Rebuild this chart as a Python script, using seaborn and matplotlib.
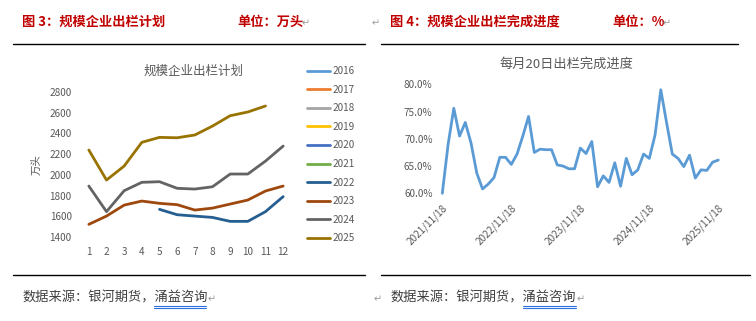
import matplotlib
matplotlib.use("Agg")
import matplotlib.pyplot as plt
from matplotlib.lines import Line2D
import numpy as np
import pandas as pd
import seaborn as sns

sns.set_theme(style="white")
plt.rcParams["font.family"] = ["Noto Sans CJK SC", "DejaVu Sans"]

# ---- data: planned monthly slaughter of large producers (10k head) ----
months = list(range(1, 13))
years = ["2016", "2017", "2018", "2019", "2020", "2021", "2022", "2023", "2024", "2025"]
plan_2022 = [None, None, None, None, 1667, 1615, 1602, 1589, 1551, 1551, 1645, 1790]
plan_2023 = [1522, 1602, 1708, 1747, 1725, 1712, 1660, 1679, 1718, 1757, 1844, 1892]
plan_2024 = [1892, 1645, 1847, 1928, 1934, 1870, 1863, 1885, 2008, 2008, 2133, 2278]
plan_2025 = [2240, 1950, 2085, 2314, 2362, 2358, 2385, 2471, 2571, 2607, 2665, None]
year_colors = ["#5B9BD5", "#ED7D31", "#A5A5A5", "#FFC000", "#4472C4",
               "#70AD47", "#255E91", "#9E480E", "#636363", "#997300"]
left_yticks = [1400, 1600, 1800, 2000, 2200, 2400, 2600, 2800]

# ---- data: completion of monthly plan as of the 20th ----
progress_dates = pd.date_range("2021-11-01", periods=49, freq="MS") + pd.Timedelta(days=17)
progress = [60.0, 68.9, 75.6, 70.5, 73.0, 69.2, 63.7, 60.8, 61.7, 62.9,
            66.6, 66.6, 65.3, 67.2, 70.5, 74.1, 67.5, 68.1, 68.0, 68.0,
            65.2, 65.0, 64.5, 64.5, 68.3, 67.3, 69.5, 61.2, 63.2, 62.0,
            65.6, 61.3, 66.4, 63.4, 64.3, 67.2, 66.4, 70.7, 79.0, 73.0,
            67.2, 66.4, 64.9, 67.0, 62.8, 64.3, 64.2, 65.7, 66.1]
right_xticklabels = ["2021/11/18", "2022/11/18", "2023/11/18", "2024/11/18", "2025/11/18"]
right_yticks = [60, 65, 70, 75, 80]

W, H = 756, 321
fig = plt.figure(figsize=(W / 100, H / 100), dpi=100)
fig.patch.set_facecolor("white")

def px_axes(x0, y0, x1, y1):
    return fig.add_axes([x0 / W, 1 - y1 / H, (x1 - x0) / W, (y1 - y0) / H])

GRAY = "#595959"
RED = "#C00000"
MARK = "#9A9A9A"

# ---------------- left chart ----------------
axl = px_axes(80, 92, 292, 237)
plan = pd.DataFrame({
    "month": months * 4,
    "value": plan_2022 + plan_2023 + plan_2024 + plan_2025,
    "year": ["2022"] * 12 + ["2023"] * 12 + ["2024"] * 12 + ["2025"] * 12,
}).dropna()
pal = dict(zip(years, year_colors))
sns.lineplot(data=plan, x="month", y="value", hue="year", palette=pal,
             ax=axl, linewidth=2.0, legend=False)
axl.set_xlim(0.5, 12.5)
axl.set_ylim(1400, 2800)
axl.set_xticks(months)
axl.set_xticklabels([str(m) for m in months])
axl.set_yticks(left_yticks)
axl.tick_params(axis="both", length=0, labelsize=7.2, colors=GRAY)
axl.tick_params(axis="x", pad=7)
axl.tick_params(axis="y", pad=6)
axl.set_xlabel("")
axl.set_ylabel("万头", fontsize=7.5, color=GRAY, labelpad=6)
for s in axl.spines.values():
    s.set_visible(False)
axl.set_facecolor("none")
fig.text(194 / W, 1 - 71 / H, "规模企业出栏计划", ha="center", va="center",
         fontsize=9, color=GRAY)
handles = [Line2D([0], [0], color=c, lw=2) for c in year_colors]
fig.legend(handles, years, loc="upper left", bbox_to_anchor=(302 / W, 1 - 61 / H),
           frameon=False, fontsize=7.2, handlelength=2.3, handletextpad=0.25,
           labelspacing=0.86, borderpad=0, labelcolor=GRAY)

# ---------------- right chart ----------------
axr = px_axes(442.3, 84.3, 718.3, 193.3)
prog = pd.DataFrame({"idx": np.arange(len(progress)), "pct": progress})
sns.lineplot(data=prog, x="idx", y="pct", ax=axr, color="#5B9BD5",
             linewidth=2.0, clip_on=False)
axr.set_xlim(0, len(progress) - 1)
axr.set_ylim(60, 80)
axr.set_yticks(right_yticks)
axr.set_yticklabels([f"{v:.1f}%" for v in right_yticks])
tick_idx = [i for i, d in enumerate(progress_dates) if d.month == 11]
axr.set_xticks(tick_idx)
axr.set_xticklabels(right_xticklabels, rotation=45, ha="right",
                    rotation_mode="anchor")
axr.tick_params(axis="both", length=0, labelsize=7.2, colors=GRAY)
axr.tick_params(axis="x", pad=7)
axr.tick_params(axis="y", pad=7)
axr.set_xlabel("")
axr.set_ylabel("")
for s in axr.spines.values():
    s.set_visible(False)
axr.set_facecolor("none")
fig.text(566 / W, 1 - 64 / H, "每月20日出栏完成进度", ha="center", va="center",
         fontsize=9.5, color=GRAY)

# ---------------- page furniture ----------------
def hline(x0, x1, y, color="black", lw=1.0):
    fig.add_artist(Line2D([x0 / W, x1 / W], [1 - y / H, 1 - y / H],
                          color=color, lw=lw, transform=fig.transFigure))

hline(13, 365, 44.3)
hline(381, 738, 44.3)
hline(13, 365, 274.5)
hline(381, 750, 274.5)

def ftxt(x, y, s, **kw):
    return fig.text(x / W, 1 - y / H, s, va="center", **kw)

ftxt(22, 22, "图 3：规模企业出栏计划", fontsize=9.5, color=RED, fontweight="bold")
ftxt(237, 22, "单位：万头", fontsize=9.5, color=RED, fontweight="bold")
ftxt(302, 23, "↵", fontsize=7, color=MARK)
ftxt(372, 23, "↵", fontsize=7, color=MARK)
ftxt(390, 22, "图 4：规模企业出栏完成进度", fontsize=9.5, color=RED, fontweight="bold")
ftxt(612, 22, "单位：%", fontsize=9.5, color=RED, fontweight="bold")
ftxt(663, 23, "↵", fontsize=7, color=MARK)

ftxt(22, 298, "数据来源：银河期货，涌益咨询", fontsize=9.5, color="#404040")
ftxt(208, 299, "↵", fontsize=7, color=MARK)
ftxt(374, 299, "↵", fontsize=7, color=MARK)
ftxt(390, 298, "数据来源：银河期货，涌益咨询", fontsize=9.5, color="#404040")
ftxt(577, 299, "↵", fontsize=7, color=MARK)
for x0, x1 in [(154, 206), (523, 576)]:
    hline(x0, x1, 306, color="#2E6FE0", lw=0.8)
    hline(x0, x1, 308, color="#2E6FE0", lw=0.8)

fig.savefig("out.png", dpi=100, facecolor="white")
